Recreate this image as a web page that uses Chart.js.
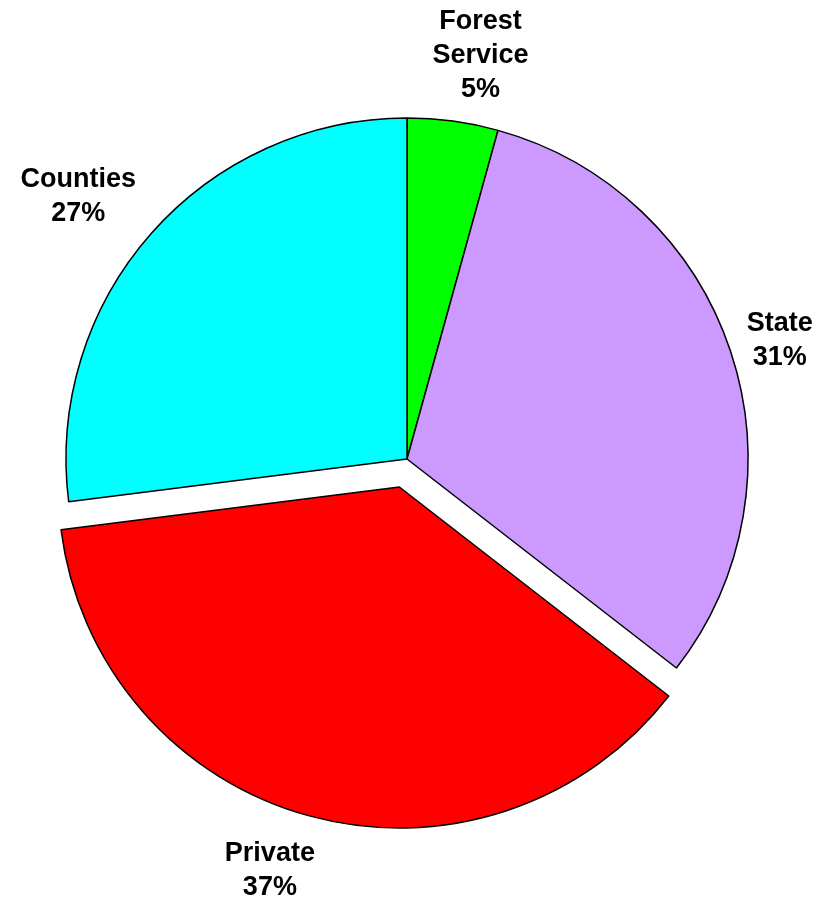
<!DOCTYPE html>
<html><head><meta charset="utf-8">
<script src="https://cdn.jsdelivr.net/npm/chart.js@4.4.0/dist/chart.umd.min.js"></script>
<style>html,body{margin:0;padding:0;background:#fff;overflow:hidden}#wrap{width:833px;height:901px;position:relative}</style>
</head><body><div id="wrap"><canvas id="c" width="833" height="901"></canvas></div>
<script>
// ---- data ----
const categories = ['Forest Service', 'State', 'Private', 'Counties'];
const shares = [4.3, 31.2, 37.5, 27.0];
const percentLabels = ['5%', '31%', '37%', '27%'];

// ---- styles ----
const nameLines = [['Forest', 'Service'], ['State'], ['Private'], ['Counties']];
const colors = ['#00ff00', '#cc99ff', '#ff0000', '#00ffff'];
const explodePx = [0, 0, 29, 0];
const labelNudge = [[18, 5], [-4, 7], [-24, -2], [-13, 16]];
const FONT = 'bold 27px "Liberation Sans", Arial, sans-serif';
const LINE_H = 34;
const GAP = 14;

const explodePlugin = {
  id: 'explode',
  beforeDatasetsDraw(chart) {
    const meta = chart.getDatasetMeta(0);
    const ca = chart.chartArea;
    const cx = (ca.left + ca.right) / 2, cy = (ca.top + ca.bottom) / 2;
    meta.data.forEach((el, i) => {
      const mid = (el.startAngle + el.endAngle) / 2;
      el.x = cx + Math.cos(mid) * explodePx[i];
      el.y = cy + Math.sin(mid) * explodePx[i];
    });
  }
};

const labelPlugin = {
  id: 'outerLabels',
  afterDatasetsDraw(chart) {
    const ctx = chart.ctx;
    const meta = chart.getDatasetMeta(0);
    ctx.save();
    ctx.font = FONT;
    ctx.fillStyle = '#000';
    ctx.textAlign = 'center';
    ctx.textBaseline = 'middle';
    meta.data.forEach((el, i) => {
      const lines = nameLines[i].concat([percentLabels[i]]);
      const w = Math.max(...lines.map(t => ctx.measureText(t).width));
      const h = lines.length * LINE_H;
      const mid = (el.startAngle + el.endAngle) / 2;
      const c = Math.cos(mid), s = Math.sin(mid);
      const ext = Math.abs(c) * w / 2 + Math.abs(s) * h / 2;
      const d = el.outerRadius + GAP + ext;
      const x = el.x + c * d + labelNudge[i][0];
      const y = el.y + s * d + labelNudge[i][1];
      lines.forEach((t, k) => {
        ctx.fillText(t, x, y - h / 2 + LINE_H * (k + 0.5));
      });
    });
    ctx.restore();
  }
};

new Chart(document.getElementById('c'), {
  type: 'pie',
  data: {
    labels: categories,
    datasets: [{
      data: shares,
      backgroundColor: colors,
      borderColor: '#000000',
      borderWidth: 1.5,
      radius: 341
    }]
  },
  options: {
    responsive: false,
    animation: false,
    devicePixelRatio: 1,
    layout: { padding: { left: 0, right: 19, top: 17, bottom: 0 } },
    plugins: { legend: { display: false }, tooltip: { enabled: false } }
  },
  plugins: [explodePlugin, labelPlugin]
});
</script>
</body></html>
